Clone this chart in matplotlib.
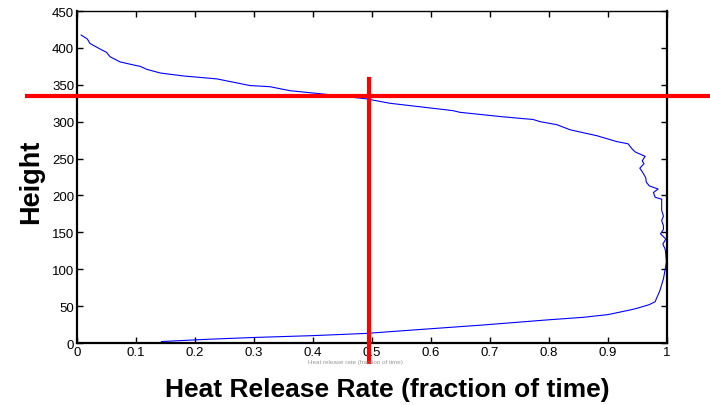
import numpy as np
import matplotlib
matplotlib.use("Agg")
import matplotlib.pyplot as plt

plt.rcParams['font.family'] = ['Liberation Sans', 'DejaVu Sans']

# heat release profile: fraction of time vs height
rate = [0.143, 0.22, 0.30, 0.40, 0.49, 0.576, 0.688, 0.80, 0.858, 0.90,
        0.937, 0.949, 0.97, 0.980, 0.982, 0.988, 0.994, 0.997, 0.999, 0.998,
        0.997, 0.993, 0.998, 0.989, 0.994, 0.994, 0.991, 0.994, 0.991, 0.991,
        0.980, 0.977, 0.985, 0.970, 0.965, 0.964, 0.959, 0.954, 0.961, 0.958,
        0.963, 0.946, 0.941, 0.934, 0.915, 0.898, 0.881, 0.864, 0.836, 0.813,
        0.785, 0.773, 0.751, 0.717, 0.649, 0.637, 0.53, 0.49, 0.417, 0.361,
        0.327, 0.293, 0.237, 0.18, 0.141, 0.118, 0.107, 0.095, 0.073, 0.056,
        0.05, 0.039, 0.022, 0.0175, 0.007]
height = [2, 5, 7.5, 10, 13, 18, 24.4, 31.5, 34.8, 38.5,
          44.7, 47, 52, 56, 60, 71, 87, 100, 110, 120,
          127, 134, 141, 148, 154, 159, 166, 172, 180, 195,
          197.5, 204, 208.7, 213, 218, 224, 231, 237, 243, 247,
          253, 259, 263, 270, 273, 277, 281, 284, 289, 296,
          300, 303, 304.5, 307, 312.7, 315, 325, 331, 337.5, 342,
          347.4, 349, 358, 362, 366, 371, 375, 377, 381, 388,
          394, 398.5, 406, 412, 417.5]

# crosshair marking the chosen point
cross_x = 0.495
cross_y = 335

xticks = [0, 0.1, 0.2, 0.3, 0.4, 0.5, 0.6, 0.7, 0.8, 0.9, 1]
xtick_labels = ['0', '0.1', '0.2', '0.3', '0.4', '0.5', '0.6', '0.7', '0.8', '0.9', '1']
yticks = np.arange(0, 451, 50)

fig = plt.figure(figsize=(7.1, 4.06), dpi=100)
ax = fig.add_axes([0.1085, 0.1527, 0.8309, 0.8177])

ax.plot(rate, height, color='#0000ff', lw=0.8)

ax.plot([-0.085, 1.073], [cross_y, cross_y], color='#ff0000', lw=3.0, clip_on=False, zorder=5)
ax.plot([cross_x, cross_x], [-26, 358], color='#ff0000', lw=3.0, clip_on=False, zorder=5)

ax.set_xlim(0, 1)
ax.set_ylim(0, 450)
ax.set_xticks(xticks)
ax.set_xticklabels(xtick_labels)
ax.set_yticks(yticks)
ax.tick_params(direction='in', length=4, width=1, top=True, right=True,
               labelsize=9.5, pad=2, labeltop=False, labelright=False)

for side in ['left', 'bottom', 'right']:
    ax.spines[side].set_linewidth(1.6)
ax.spines['top'].set_linewidth(1.0)

ax.set_xlabel('Heat Release Rate (fraction of time)', fontsize=19, fontweight='bold', labelpad=14)
ax.set_ylabel('Height', fontsize=19.5, fontweight='bold', labelpad=6)
ax.xaxis.label.set_x(0.526)
ax.yaxis.label.set_y(0.488)

# small leftover caption under the axis
fig.text(0.50, 0.108, 'Heat release rate (fraction of time)', fontsize=4.5,
         color='#999999', ha='center', va='center')

fig.savefig('out.png', dpi=100)
